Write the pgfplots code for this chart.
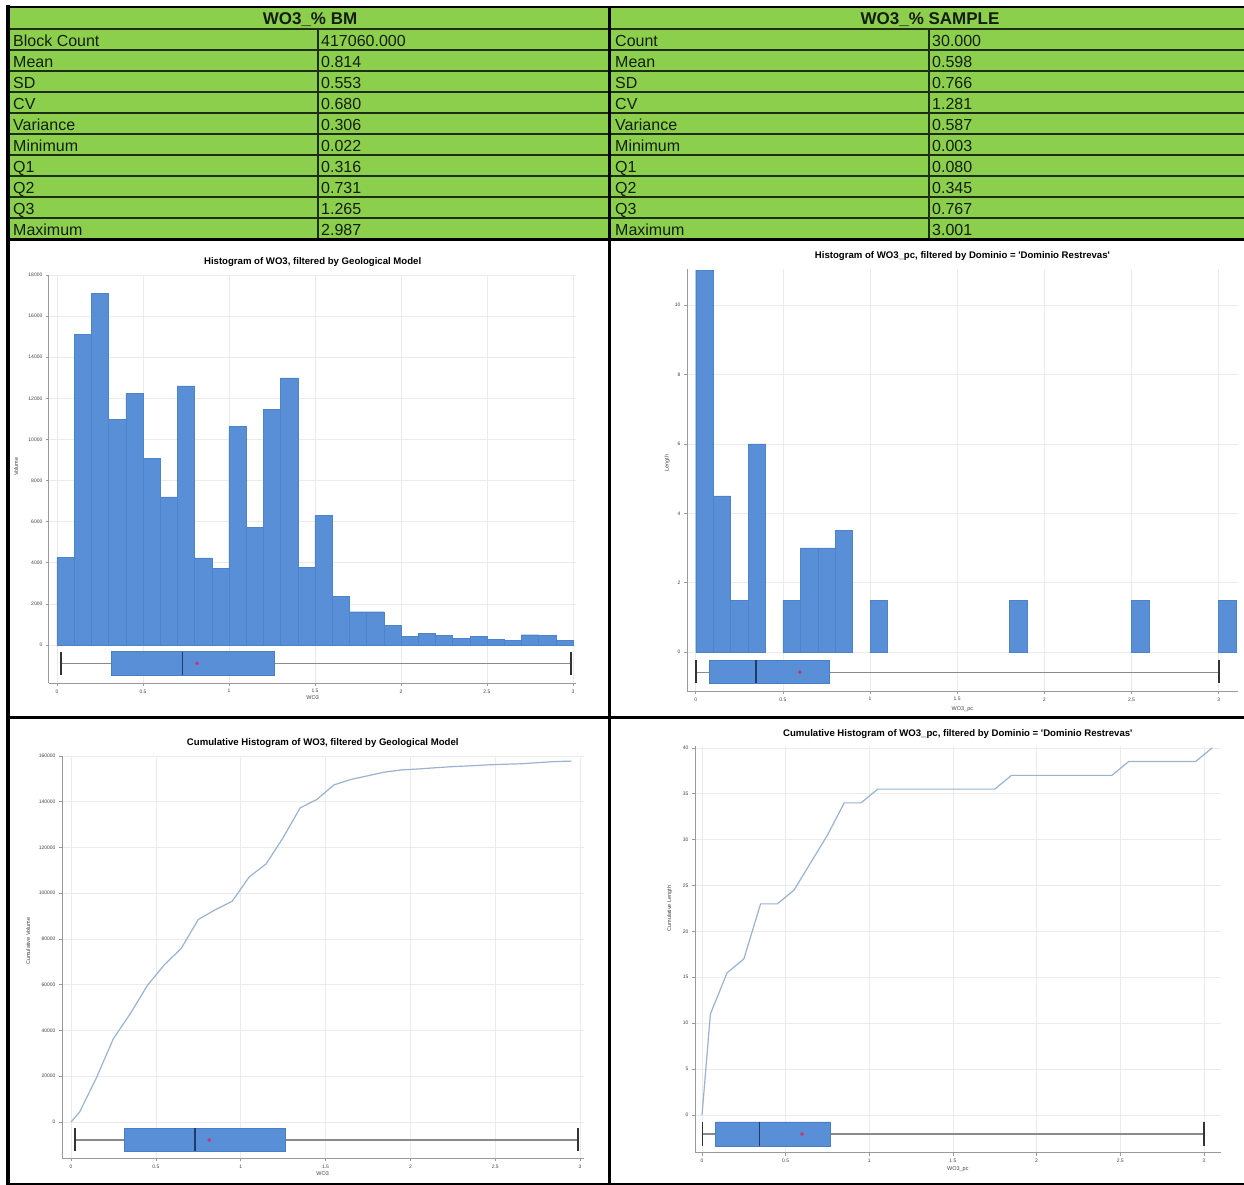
\documentclass[border=0pt]{standalone}
\usepackage{fontspec}
\setmainfont{Liberation Sans}
\usepackage{pgfplots}
\pgfplotsset{compat=1.18}
\definecolor{tabgreen}{HTML}{8CCF4C}
\definecolor{tabline}{HTML}{1E2E14}
\definecolor{tabtext}{HTML}{141E10}
\definecolor{barblue}{HTML}{588FD6}
\definecolor{baredge}{HTML}{4E83C9}
\definecolor{boxedge}{HTML}{4A7DC2}
\definecolor{mednavy}{HTML}{1F3A6B}
\definecolor{meanred}{HTML}{D0306A}
\definecolor{whisk}{HTML}{8A8A8A}
\definecolor{capgray}{HTML}{333333}
\definecolor{cumline}{HTML}{9AB3D0}
\definecolor{gridgray}{HTML}{EBEBEB}
\definecolor{axisgray}{HTML}{9A9A9A}
\definecolor{ticktext}{HTML}{444444}
\newcommand{\rowfont}{\fontsize{16}{18}\selectfont}
\newcommand{\headfont}{\bfseries\fontsize{17}{19}\selectfont}
\pgfplotsset{
  panel/.style={
    scale only axis,
    axis x line*=bottom, axis y line*=left,
    axis line style={-, draw=axisgray, line width=0.9pt},
    grid=major, grid style={draw=gridgray, line width=0.6pt},
    tick style={draw=axisgray, line width=0.6pt},
    major tick length=3pt, tick align=outside,
    ticklabel style={font=\fontsize{5}{6}\selectfont, text=ticktext},
    /pgf/number format/fixed,
    /pgf/number format/assume math mode=true,
    /pgf/number format/1000 sep={},
    scaled ticks=false,
    xtick={0,0.5,1,1.5,2,2.5,3},
    title style={font=\bfseries\fontsize{9.6}{11}\selectfont, anchor=base, inner sep=0pt},
    label style={font=\fontsize{5.5}{6.5}\selectfont, text=ticktext},
  },
}
\begin{document}
\begin{tikzpicture}
\useasboundingbox (0pt,0pt) rectangle (1244pt,1185pt);
\fill[white] (0pt,0pt) rectangle (1244pt,1185pt);
\begin{scope}[x=1pt,y=-1pt,shift={(0pt,1185pt)}]
\fill[tabgreen] (8,7) rectangle (1244,239);
\foreach \yy in {29,50,71,92,113,134,155,176,197,218}
  \draw[tabline, line width=1.8pt] (8,\yy) -- (1244,\yy);
\draw[black, line width=2pt] (8,7) -- (1244,7);
\draw[tabline, line width=1.8pt] (318,29) -- (318,239);
\draw[tabline, line width=1.8pt] (929,29) -- (929,239);
% headers
\node[anchor=base, font=\headfont, text=tabtext, inner sep=0pt] at (310,25) {WO3\_\% BM};
\node[anchor=base, font=\headfont, text=tabtext, inner sep=0pt] at (930,25) {WO3\_\% SAMPLE};
% left table
\foreach \lab/\val [count=\k from 0] in {Block Count/417060.000, Mean/0.814, SD/0.553, CV/0.680, Variance/0.306, Minimum/0.022, Q1/0.316, Q2/0.731, Q3/1.265, Maximum/2.987}{
  \node[anchor=base west, font=\rowfont, text=tabtext, inner sep=0pt] at (13,46.5+21*\k) {\lab};
  \node[anchor=base west, font=\rowfont, text=tabtext, inner sep=0pt] at (321,46.5+21*\k) {\val};
}
\foreach \lab/\val [count=\k from 0] in {Count/30.000, Mean/0.598, SD/0.766, CV/1.281, Variance/0.587, Minimum/0.003, Q1/0.080, Q2/0.345, Q3/0.767, Maximum/3.001}{
  \node[anchor=base west, font=\rowfont, text=tabtext, inner sep=0pt] at (615,46.5+21*\k) {\lab};
  \node[anchor=base west, font=\rowfont, text=tabtext, inner sep=0pt] at (932,46.5+21*\k) {\val};
}
% panel frame
\draw[black, line width=3pt] (609,6) -- (609,1185);
\draw[black, line width=3pt] (8,240) -- (1244,240);
\draw[black, line width=3pt] (8,718) -- (1244,718);
\draw[black, line width=4pt] (8,5) -- (8,1185);
\draw[black, line width=2pt] (8,1184) -- (1244,1184);
\end{scope}

% ---------- top left: histogram BM ----------
\begin{axis}[panel, at={(48.9pt,502pt)}, anchor=south west,
  width=527.5pt, height=408pt,
  xmin=-0.047, xmax=3.02, ymin=-1848, ymax=18000,
  ytick={0,2000,4000,6000,8000,10000,12000,14000,16000,18000},
  title={Histogram of WO3, filtered by Geological Model},
  title style={at={(axis description cs:0.5,1)}, yshift=4.5pt},
  xlabel={WO3}, ylabel={Volume},
  xlabel style={at={(axis description cs:0.5,-0.036)}, anchor=center},
  ylabel style={at={(axis description cs:-0.062,0.53)}, anchor=center},
]
\addplot[ybar interval, fill=barblue, draw=baredge, line width=0.4pt] coordinates {
(0,4250) (0.1,15100) (0.2,17100) (0.3,10980) (0.4,12230) (0.5,9070) (0.6,7200)
(0.7,12600) (0.8,4240) (0.9,3720) (1.0,10640) (1.1,5720) (1.2,11450) (1.3,13000)
(1.4,3770) (1.5,6320) (1.6,2360) (1.7,1620) (1.8,1620) (1.9,940) (2.0,405)
(2.1,550) (2.2,470) (2.3,340) (2.4,405) (2.5,275) (2.6,210) (2.7,500) (2.8,470)
(2.9,210) (3.0,210)};
\addplot[whisk, line width=1.1pt] coordinates {(0.022,-892) (2.987,-892)};
\addplot[fill=barblue, draw=boxedge, line width=0.5pt] coordinates {(0.316,-325) (1.265,-325) (1.265,-1460) (0.316,-1460) (0.316,-325)};
\addplot[mednavy, line width=1.4pt] coordinates {(0.731,-325) (0.731,-1460)};
\addplot[capgray, line width=1.8pt] coordinates {(0.022,-325) (0.022,-1460)};
\addplot[capgray, line width=1.8pt] coordinates {(2.987,-325) (2.987,-1460)};
\addplot[only marks, mark=*, mark size=1.6pt, color=meanred] coordinates {(0.814,-892)};
\end{axis}

% ---------- top right: histogram sample ----------
\begin{axis}[panel, at={(687pt,494pt)}, anchor=south west,
  width=550.8pt, height=422.4pt,
  xmin=-0.05, xmax=3.11, ymin=-1.12, ymax=11.05,
  ytick={0,2,4,6,8,10},
  title={Histogram of WO3\_pc, filtered by Dominio = \textquotesingle Dominio Restrevas\textquotesingle},
  title style={at={(axis description cs:0.5,1)}, yshift=4.2pt},
  xlabel={WO3\_pc}, ylabel={Length},
  xlabel style={at={(axis description cs:0.5,-0.043)}, anchor=center},
  ylabel style={at={(axis description cs:-0.036,0.54)}, anchor=center},
]
\addplot[ybar interval, fill=barblue, draw=baredge, line width=0.4pt] coordinates {(0,11) (0.1,4.5) (0.2,1.5) (0.3,6) (0.4,0)};
\addplot[ybar interval, fill=barblue, draw=baredge, line width=0.4pt] coordinates {(0.5,1.5) (0.6,3) (0.7,3) (0.8,3.5) (0.9,0)};
\addplot[ybar interval, fill=barblue, draw=baredge, line width=0.4pt] coordinates {(1.0,1.5) (1.1,0)};
\addplot[ybar interval, fill=barblue, draw=baredge, line width=0.4pt] coordinates {(1.8,1.5) (1.9,0)};
\addplot[ybar interval, fill=barblue, draw=baredge, line width=0.4pt] coordinates {(2.5,1.5) (2.6,0)};
\addplot[ybar interval, fill=barblue, draw=baredge, line width=0.4pt] coordinates {(3.0,1.5) (3.1,0)};
\addplot[whisk, line width=1.1pt] coordinates {(0.003,-0.576) (3.001,-0.576)};
\addplot[fill=barblue, draw=boxedge, line width=0.5pt] coordinates {(0.080,-0.23) (0.767,-0.23) (0.767,-0.89) (0.080,-0.89) (0.080,-0.23)};
\addplot[mednavy, line width=1.4pt] coordinates {(0.345,-0.23) (0.345,-0.89)};
\addplot[capgray, line width=1.8pt] coordinates {(0.003,-0.23) (0.003,-0.89)};
\addplot[capgray, line width=1.8pt] coordinates {(3.001,-0.23) (3.001,-0.89)};
\addplot[only marks, mark=*, mark size=1.6pt, color=meanred] coordinates {(0.598,-0.576)};
\end{axis}

% ---------- bottom left: cumulative BM ----------
\begin{axis}[panel, at={(62pt,26.7pt)}, anchor=south west,
  width=521.5pt, height=402.3pt,
  xmin=-0.053, xmax=3.02, ymin=-15870, ymax=160000,
  ytick={0,20000,40000,60000,80000,100000,120000,140000,160000},
  title={Cumulative Histogram of WO3, filtered by Geological Model},
  title style={at={(axis description cs:0.5,1)}, yshift=4.5pt},
  xlabel={WO3}, ylabel={Cumulative Volume},
  xlabel style={at={(axis description cs:0.5,-0.039)}, anchor=center},
  ylabel style={at={(axis description cs:-0.065,0.54)}, anchor=center},
]
\addplot[cumline, line width=1.2pt] coordinates {
(0,0) (0.05,4250) (0.15,19350) (0.25,36450) (0.35,47430) (0.45,59660) (0.55,68730)
(0.65,75930) (0.75,88530) (0.85,92770) (0.95,96490) (1.05,107130) (1.15,112850)
(1.25,124300) (1.35,137300) (1.45,141070) (1.55,147390) (1.65,149750) (1.75,151370)
(1.85,152990) (1.95,153930) (2.05,154335) (2.15,154885) (2.25,155355) (2.35,155695)
(2.45,156100) (2.55,156375) (2.65,156585) (2.75,157085) (2.85,157555) (2.95,157765)};
\addplot[whisk, line width=1.1pt] coordinates {(0.022,-7870) (2.987,-7870)};
\addplot[fill=barblue, draw=boxedge, line width=0.5pt] coordinates {(0.316,-2750) (1.265,-2750) (1.265,-12680) (0.316,-12680) (0.316,-2750)};
\addplot[mednavy, line width=1.4pt] coordinates {(0.731,-2750) (0.731,-12680)};
\addplot[capgray, line width=1.8pt] coordinates {(0.022,-2750) (0.022,-12680)};
\addplot[capgray, line width=1.8pt] coordinates {(2.987,-2750) (2.987,-12680)};
\addplot[only marks, mark=*, mark size=1.6pt, color=meanred] coordinates {(0.814,-7870)};
\end{axis}

% ---------- bottom right: cumulative sample ----------
\begin{axis}[panel, at={(695pt,32.4pt)}, anchor=south west,
  width=525.6pt, height=406.6pt,
  xmin=-0.042, xmax=3.1, ymin=-4.1, ymax=40.2,
  ytick={0,5,10,15,20,25,30,35,40},
  title={Cumulative Histogram of WO3\_pc, filtered by Dominio = \textquotesingle Dominio Restrevas\textquotesingle},
  title style={at={(axis description cs:0.5,1)}, yshift=3.8pt},
  xlabel={WO3\_pc}, ylabel={Cumulative Length},
  xlabel style={at={(axis description cs:0.5,-0.040)}, anchor=center},
  ylabel style={at={(axis description cs:-0.048,0.6)}, anchor=center},
]
\addplot[cumline, line width=1.2pt] coordinates {
(0,0) (0.05,11) (0.15,15.5) (0.25,17) (0.35,23) (0.45,23) (0.55,24.5) (0.65,27.5)
(0.75,30.5) (0.85,34) (0.95,34) (1.05,35.5) (1.15,35.5) (1.25,35.5) (1.35,35.5)
(1.45,35.5) (1.55,35.5) (1.65,35.5) (1.75,35.5) (1.85,37) (1.95,37) (2.05,37)
(2.15,37) (2.25,37) (2.35,37) (2.45,37) (2.55,38.5) (2.65,38.5) (2.75,38.5)
(2.85,38.5) (2.95,38.5) (3.05,40)};
\addplot[whisk, line width=1.1pt] coordinates {(0.003,-2.07) (3.001,-2.07)};
\addplot[fill=barblue, draw=boxedge, line width=0.5pt] coordinates {(0.080,-0.76) (0.767,-0.76) (0.767,-3.38) (0.080,-3.38) (0.080,-0.76)};
\addplot[mednavy, line width=1.4pt] coordinates {(0.345,-0.76) (0.345,-3.38)};
\addplot[capgray, line width=1.8pt] coordinates {(0.003,-0.76) (0.003,-3.38)};
\addplot[capgray, line width=1.8pt] coordinates {(3.001,-0.76) (3.001,-3.38)};
\addplot[only marks, mark=*, mark size=1.6pt, color=meanred] coordinates {(0.598,-2.07)};
\end{axis}
\end{tikzpicture}
\end{document}
